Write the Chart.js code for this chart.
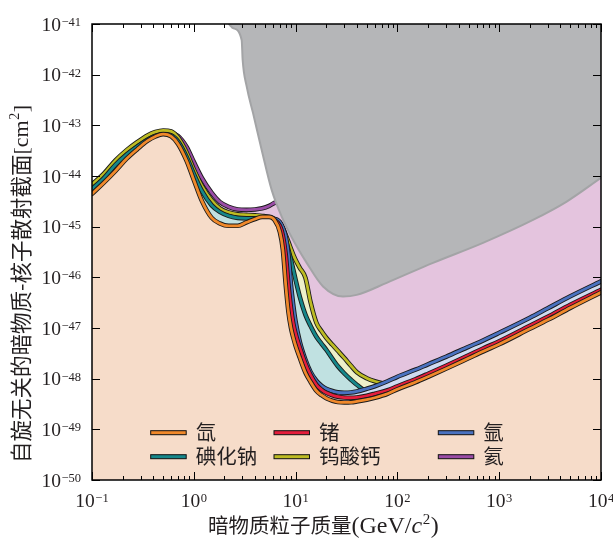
<!DOCTYPE html>
<html>
<head>
<meta charset="utf-8">
<script src="https://cdn.jsdelivr.net/npm/chart.js@4.4.0/dist/chart.umd.min.js"></script>
<style>
  body { margin: 0; background: #fff; }
  #wrap { width: 613px; height: 538px; }
</style>
</head>
<body>
<div id="wrap"><canvas id="floorChart" width="613" height="538"></canvas></div>
<script>
// 暗物质质量网格 (GeV/c^2)，各靶材共用
const mass = [0.1, 0.13, 0.17, 0.22, 0.28, 0.35, 0.42, 0.5, 0.6, 0.7,
  0.85, 1.0, 1.2, 1.5, 1.8, 2.2, 2.7, 3.3, 4.0, 4.7,
  5.5, 6.2, 7, 7.5, 8, 8.5, 9, 9.5, 10, 11,
  12.5, 14, 16, 18, 20, 23, 26, 30, 35, 40,
  50, 60, 80, 100, 150, 200, 300, 500, 700, 1000,
  2000, 3000, 5000, 10000];

// 中微子本底截面 (cm^2)
const xenonSigma = [4.44e-45, 7.31e-45, 1.26e-44, 2.22e-44, 3.42e-44, 4.92e-44, 6.04e-44, 6.68e-44, 6.04e-44, 4.30e-44,
  1.99e-44, 8.38e-45, 3.23e-45, 1.49e-45, 1.16e-45, 1.04e-45, 1.04e-45, 1.22e-45, 1.42e-45, 1.56e-45,
  1.56e-45, 1.36e-45, 7.90e-46, 3.49e-46, 7.11e-47, 2.09e-47, 1.01e-47, 6.41e-48, 4.46e-48, 2.58e-48,
  1.31e-48, 8.69e-49, 5.77e-49, 4.71e-49, 4.11e-49, 3.67e-49, 3.46e-49, 3.39e-49, 3.42e-49, 3.55e-49,
  3.84e-49, 4.20e-49, 5.04e-49, 6.18e-49, 8.49e-49, 1.09e-48, 1.57e-48, 2.53e-48, 3.47e-48, 4.77e-48,
  9.64e-48, 1.45e-47, 2.50e-47, 5.06e-47];
const germaniumSigma = [3.70e-45, 6.10e-45, 1.05e-44, 1.85e-44, 2.85e-44, 4.11e-44, 5.04e-44, 5.57e-44, 5.04e-44, 3.58e-44,
  1.66e-44, 6.98e-45, 2.69e-45, 1.24e-45, 9.69e-46, 8.65e-46, 8.65e-46, 1.01e-45, 1.19e-45, 1.30e-45,
  1.42e-45, 1.36e-45, 1.04e-45, 6.58e-46, 2.78e-46, 7.11e-47, 2.50e-47, 1.21e-47, 7.68e-48, 4.07e-48,
  1.97e-48, 1.19e-48, 7.58e-49, 6.04e-49, 5.27e-49, 4.71e-49, 4.40e-49, 4.24e-49, 4.20e-49, 4.26e-49,
  4.60e-49, 5.04e-49, 5.91e-49, 7.08e-49, 9.73e-49, 1.25e-48, 1.80e-48, 2.89e-48, 3.98e-48, 5.46e-48,
  1.105e-47, 1.66e-47, 2.87e-47, 5.67e-47];
const argonSigma = [3.38e-45, 5.57e-45, 9.60e-45, 1.69e-44, 2.61e-44, 3.75e-44, 4.60e-44, 5.08e-44, 4.60e-44, 3.27e-44,
  1.51e-44, 6.38e-45, 2.46e-45, 1.14e-45, 8.84e-46, 7.90e-46, 8.26e-46, 9.91e-46, 1.14e-45, 1.24e-45,
  1.39e-45, 1.42e-45, 1.24e-45, 9.47e-46, 6.29e-46, 2.78e-46, 7.11e-47, 2.74e-47, 1.33e-47, 5.34e-48,
  2.36e-48, 1.37e-48, 9.09e-49, 7.24e-49, 6.32e-49, 5.69e-49, 5.39e-49, 5.27e-49, 5.34e-49, 5.59e-49,
  6.32e-49, 7.08e-49, 8.89e-49, 1.09e-48, 1.50e-48, 1.92e-48, 2.70e-48, 4.26e-48, 5.72e-48, 8.04e-48,
  1.59e-47, 2.45e-47, 4.22e-47, 8.34e-47];
const naiSigma = [5.57e-45, 8.97e-45, 1.66e-44, 2.67e-44, 3.84e-44, 5.15e-44, 6.18e-44, 6.61e-44, 6.32e-44, 4.81e-44,
  2.38e-44, 1.10e-44, 5.08e-45, 2.63e-45, 1.96e-45, 1.63e-45, 1.49e-45, 1.46e-45, 1.46e-45, 1.46e-45,
  1.46e-45, 1.39e-45, 1.085e-45, 8.26e-46, 5.49e-46, 3.49e-46, 2.21e-46, 1.41e-46, 8.93e-47, 4.12e-47,
  1.82e-47, 1.105e-47, 6.71e-48, 4.88e-48, 3.72e-48, 2.47e-48, 1.76e-48, 1.28e-48, 9.51e-49, 7.58e-49,
  5.77e-49, 6.18e-49, 7.75e-49, 9.51e-49, 1.31e-48, 1.68e-48, 2.36e-48, 3.72e-48, 4.99e-48, 7.02e-48,
  1.39e-47, 2.13e-47, 3.68e-47, 7.28e-47];
const cawo4Sigma = [6.83e-45, 1.10e-44, 2.03e-44, 3.27e-44, 4.71e-44, 6.31e-44, 7.40e-44, 7.93e-44, 7.58e-44, 5.77e-44,
  2.92e-44, 1.35e-44, 6.38e-45, 3.30e-45, 2.30e-45, 1.91e-45, 1.75e-45, 1.71e-45, 1.67e-45, 1.63e-45,
  1.56e-45, 1.42e-45, 1.19e-45, 9.47e-46, 6.89e-46, 5.01e-46, 3.65e-46, 2.78e-46, 2.21e-46, 1.54e-46,
  9.77e-47, 3.29e-47, 1.27e-47, 8.61e-48, 6.41e-48, 4.66e-48, 3.55e-48, 2.58e-48, 1.80e-48, 1.34e-48,
  1.02e-48, 8.89e-49, 7.93e-49, 9.51e-49, 1.31e-48, 1.68e-48, 2.36e-48, 3.72e-48, 4.99e-48, 7.02e-48,
  1.39e-47, 2.13e-47, 3.68e-47, 7.28e-47];
const heliumSigma = [4.86e-45, 7.82e-45, 1.44e-44, 2.33e-44, 3.35e-44, 4.50e-44, 5.51e-44, 6.47e-44, 7.08e-44, 6.18e-44,
  3.75e-44, 1.90e-44, 9.17e-45, 4.64e-45, 3.08e-45, 2.46e-45, 2.19e-45, 2.15e-45, 2.19e-45, 2.30e-45,
  2.57e-45, 2.95e-45, 3.23e-45, 3.38e-45, 3.53e-45, 3.70e-45, 3.87e-45, 4.05e-45, 4.24e-45, 4.64e-45,
  5.08e-45, 5.32e-45, 5.82e-45, 6.10e-45, 6.38e-45, 6.98e-45, 7.31e-45, 8.00e-45, 8.38e-45, 9.17e-45,
  1.00e-44, 1.15e-44, 1.32e-44, 1.58e-44, 2.08e-44, 2.61e-44, 3.58e-44, 5.64e-44, 8.12e-44, 1.17e-43,
  2.52e-43, 4.36e-43, 9.86e-43, 4.22e-42];

// 实验排除区 (灰色)
const limitMass = [2.07, 2.43, 2.955, 3.02, 3.31, 3.815, 4.645, 5.82, 7.30, 9.43,
  12.85, 18.6, 29.2, 39.8, 78.5, 223.7, 693, 2148, 4603, 10000];
const limitSigma = [1.2e-41, 8.3e-42, 4.8e-42, 1.95e-42, 5.8e-43, 1.76e-43, 3.27e-44, 5.32e-45, 1.58e-45, 5.5e-46,
  1.93e-46, 6.6e-47, 4.18e-47, 4.5e-47, 7.8e-47, 1.93e-46, 4.8e-46, 1.36e-45, 3.13e-45, 9.2e-45];

const xTickExp = [-1, 0, 1, 2, 3, 4];
const yTickExp = [-50, -49, -48, -47, -46, -45, -44, -43, -42, -41];
const targetNames = ['氙', '锗', '氩', '碘化钠', '钨酸钙', '氦'];

const targets = [
  { sigma: xenonSigma, line: '#f0892b', fill: '#f6dcc9' },
  { sigma: germaniumSigma, line: '#e41e3c', fill: '#f3cdd2' },
  { sigma: argonSigma, line: '#4a72c0', fill: '#cfdaf0' },
  { sigma: naiSigma, line: '#16878a', fill: '#c0e1e1' },
  { sigma: cawo4Sigma, line: '#bdbb23', fill: '#eef0c9' },
  { sigma: heliumSigma, line: '#9a4ca6', fill: '#e4c4de' }
];

const toPoints = (xs, ys) => xs.map((v, i) => ({ x: v, y: ys[i] }));

const datasets = [{
  label: 'limit',
  data: toPoints(limitMass, limitSigma),
  borderColor: '#a3a4a6',
  borderWidth: 2,
  backgroundColor: '#b5b6b8',
  fill: 'end',
  order: 0
}];
targets.forEach((t, i) => {
  const pts = toPoints(mass, t.sigma);
  datasets.push({ label: targetNames[i], data: pts, borderColor: t.line, borderWidth: 2.8, fill: false, order: 2 * i + 1 });
  datasets.push({ label: targetNames[i] + ' outline', data: pts, borderColor: '#1a1a1a', borderWidth: 4.6,
    backgroundColor: t.fill, fill: 'start', order: 2 * i + 2 });
});

const SERIF = '"Liberation Serif", "DejaVu Serif", serif';
const CJK = '"Noto Sans CJK SC", sans-serif';

// 10^n 形式的刻度标签
function drawPow(ctx, exp, x, baseline, align, raise) {
  const base = '10';
  const sup = exp < 0 ? '\u2212' + (-exp) : String(exp);
  ctx.font = '19.5px ' + SERIF;
  const wb = ctx.measureText(base).width;
  ctx.font = '12.5px ' + SERIF;
  const ws = ctx.measureText(sup).width;
  const total = wb + ws + 0.5;
  const left = align === 'right' ? x - total : x - total / 2;
  ctx.font = '19.5px ' + SERIF;
  ctx.fillText(base, left, baseline);
  ctx.font = '12.5px ' + SERIF;
  ctx.fillText(sup, left + wb + 0.5, baseline - raise);
}

const decorations = {
  id: 'decorations',
  afterDraw(chart) {
    const { ctx, chartArea: a, scales: { x, y } } = chart;
    ctx.save();
    ctx.fillStyle = '#231f20';
    ctx.textAlign = 'left';
    ctx.textBaseline = 'alphabetic';

    // 刻度 (朝内)
    ctx.strokeStyle = '#000';
    ctx.lineWidth = 1;
    ctx.beginPath();
    xTickExp.forEach(e => {
      const steps = e === xTickExp[xTickExp.length - 1] ? [1] : [1, 2, 3, 4, 5, 6, 7, 8, 9];
      steps.forEach(k => {
        const px = Math.round(x.getPixelForValue(k * Math.pow(10, e))) + 0.5;
        const len = k === 1 ? 8 : 4;
        ctx.moveTo(px, a.bottom); ctx.lineTo(px, a.bottom - len);
        ctx.moveTo(px, a.top); ctx.lineTo(px, a.top + len);
      });
    });
    yTickExp.forEach(e => {
      const py = Math.round(y.getPixelForValue(Math.pow(10, e))) + 0.5;
      ctx.moveTo(a.left, py); ctx.lineTo(a.left + 8, py);
      ctx.moveTo(a.right, py); ctx.lineTo(a.right - 8, py);
    });
    ctx.stroke();

    ctx.lineWidth = 1.5;
    ctx.strokeRect(a.left, a.top, a.right - a.left, a.bottom - a.top);

    // 刻度标签
    xTickExp.forEach(e => drawPow(ctx, e, x.getPixelForValue(Math.pow(10, e)), 506.5, 'center', 5));
    yTickExp.forEach(e => drawPow(ctx, e, a.left - 11, y.getPixelForValue(Math.pow(10, e)) + 6.5, 'right', 4.5));

    // 图例
    const cols = [150.7, 274, 438.3];
    const rows = [432.7, 456.7];
    targetNames.forEach((name, n) => {
      const cx = cols[n % 3], cy = rows[Math.floor(n / 3)];
      ctx.fillStyle = targets[n].line;
      ctx.fillRect(cx, cy - 2, 35.5, 4);
      ctx.lineWidth = 1;
      ctx.strokeStyle = '#111';
      ctx.strokeRect(cx, cy - 2, 35.5, 4);
      ctx.fillStyle = '#231f20';
      ctx.font = '20.5px ' + CJK;
      ctx.textBaseline = 'middle';
      ctx.fillText(name, cx + 45, cy);
      ctx.textBaseline = 'alphabetic';
    });

    // x 轴标题
    let tx = 208;
    const xb = 532.5;
    ctx.font = '20.5px ' + CJK;
    ctx.fillText('暗物质粒子质量', tx, xb);
    tx += ctx.measureText('暗物质粒子质量').width;
    ctx.font = '24px ' + SERIF;
    ctx.fillText('(GeV/', tx, xb);
    tx += ctx.measureText('(GeV/').width;
    ctx.font = 'italic 24px ' + SERIF;
    ctx.fillText('c', tx, xb);
    tx += ctx.measureText('c').width;
    ctx.font = '15px ' + SERIF;
    ctx.fillText('2', tx + 0.5, xb - 9);
    tx += ctx.measureText('2').width + 1;
    ctx.font = '24px ' + SERIF;
    ctx.fillText(')', tx, xb);

    // y 轴标题 (旋转)
    ctx.translate(0, 284);
    ctx.rotate(-Math.PI / 2);
    const cjkText = '自旋无关的暗物质-核子散射截面';
    ctx.font = '21.5px ' + CJK;
    const w1 = ctx.measureText(cjkText).width;
    ctx.font = '22px ' + SERIF;
    const w2 = ctx.measureText('[cm').width;
    ctx.font = '14px ' + SERIF;
    const w3 = ctx.measureText('2').width;
    ctx.font = '22px ' + SERIF;
    const w4 = ctx.measureText(']').width;
    let lx = -(w1 + w2 + w3 + w4 + 1) / 2;
    const lb = 29;
    ctx.font = '21.5px ' + CJK;
    ctx.fillText(cjkText, lx, lb);
    lx += w1;
    ctx.font = '22px ' + SERIF;
    ctx.fillText('[cm', lx, lb - 1);
    lx += w2;
    ctx.font = '14px ' + SERIF;
    ctx.fillText('2', lx + 0.5, lb - 10);
    lx += w3 + 1;
    ctx.font = '22px ' + SERIF;
    ctx.fillText(']', lx, lb - 1);
    ctx.restore();
  }
};

new Chart(document.getElementById('floorChart').getContext('2d'), {
  type: 'line',
  data: { datasets: datasets },
  options: {
    responsive: false,
    animation: false,
    layout: { padding: { left: 92, right: 12, top: 24, bottom: 58 } },
    elements: {
      point: { radius: 0, hoverRadius: 0 },
      line: { cubicInterpolationMode: 'monotone', borderJoinStyle: 'round', borderCapStyle: 'round' }
    },
    scales: {
      x: { type: 'logarithmic', min: 0.1, max: 1e4, display: false },
      y: { type: 'logarithmic', min: 1e-50, max: 1e-41, display: false }
    },
    plugins: {
      legend: { display: false },
      tooltip: { enabled: false }
    }
  },
  plugins: [decorations]
});
</script>
</body>
</html>
